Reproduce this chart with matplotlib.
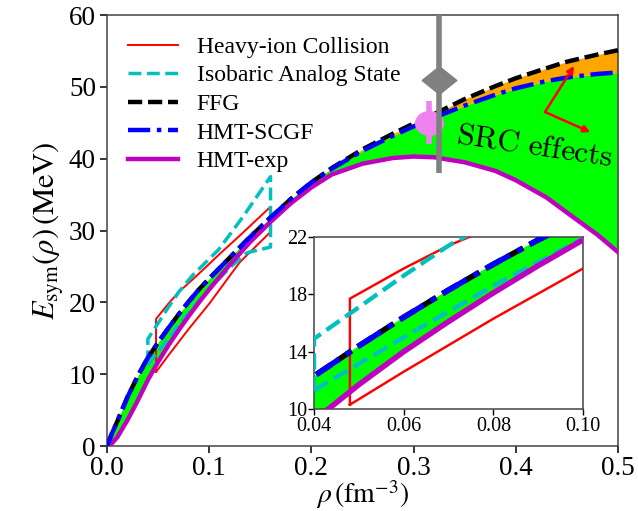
import matplotlib
matplotlib.use('Agg')
import matplotlib.pyplot as plt
from matplotlib.path import Path
from matplotlib.transforms import Affine2D
from matplotlib.ticker import FormatStrFormatter

plt.rcParams['font.family'] = ['Liberation Serif', 'DejaVu Serif']
plt.rcParams['mathtext.fontset'] = 'stix'

# ---------------- data ----------------
rho = [0.0, 0.005, 0.01, 0.02, 0.03, 0.04, 0.05, 0.06, 0.07, 0.08, 0.09, 0.10,
       0.12, 0.14, 0.16, 0.18, 0.20, 0.22, 0.25, 0.28, 0.30, 0.32, 0.35, 0.38,
       0.40, 0.43, 0.45, 0.48, 0.50]
E_ffg = [0.0, 1.8, 3.4, 6.8, 9.7, 12.3, 14.4, 16.4, 18.3, 20.1, 21.8, 23.3,
         26.2, 29.1, 31.8, 34.4, 36.7, 38.7, 41.3, 43.5, 44.9, 46.2, 48.3, 50.1,
         51.2, 52.6, 53.5, 54.5, 55.1]
E_scgf = [0.0, 1.8, 3.4, 6.8, 9.7, 12.3, 14.4, 16.4, 18.3, 20.1, 21.8, 23.3,
          26.2, 29.1, 31.8, 34.4, 36.7, 38.6, 41.1, 43.2, 44.5, 45.7, 47.4, 48.9,
          49.8, 50.8, 51.3, 51.8, 52.0]
E_exp = [0.0, 0.4, 1.2, 3.6, 6.3, 9.2, 11.7, 14.0, 16.1, 18.1, 20.0, 21.8,
         25.2, 28.4, 31.2, 33.8, 36.0, 37.8, 39.3, 40.1, 40.3, 40.2, 39.5, 38.3,
         37.0, 34.6, 32.5, 29.4, 27.0]

hic_lo_rho = [0.048, 0.06, 0.08, 0.10, 0.13, 0.16]
hic_lo_E = [10.3, 12.6, 16.3, 19.8, 25.6, 29.8]
hic_up_rho = [0.048, 0.06, 0.07, 0.08, 0.09, 0.11, 0.13, 0.16]
hic_up_E = [17.7, 19.8, 21.4, 22.7, 24.0, 26.7, 29.3, 33.3]

ias_lo_rho = [0.04, 0.06, 0.08, 0.10, 0.12, 0.137, 0.16]
ias_lo_E = [11.3, 15.0, 18.6, 21.9, 24.8, 26.9, 27.7]
ias_up_rho = [0.04, 0.05, 0.06, 0.07, 0.084, 0.109, 0.133, 0.16]
ias_up_E = [14.9, 17.1, 19.3, 21.4, 23.8, 27.3, 31.9, 37.5]

gray_rho = [0.325]
gray_E = [51.0]
gray_err = [13.0]
pink_rho = [0.315]
pink_E = [45.0]
pink_err = [3.0]

arrow_from = (0.4286, 46.5)
arrow_to = [(0.457, 52.9), (0.473, 43.7)]

labels = ['Heavy-ion Collision', 'Isobaric Analog State', 'FFG', 'HMT-SCGF', 'HMT-exp']

# closed polygons
hic_x = hic_lo_rho + hic_up_rho[::-1] + [hic_lo_rho[0]]
hic_y = hic_lo_E + hic_up_E[::-1] + [hic_lo_E[0]]
ias_x = ias_lo_rho + ias_up_rho[::-1] + [ias_lo_rho[0]]
ias_y = ias_lo_E + ias_up_E[::-1] + [ias_lo_E[0]]


def draw(ax, scale=1.0):
    ax.fill_between(rho, E_scgf, E_exp, color='#00ff00', lw=0, zorder=1)
    ax.fill_between(rho, E_ffg, E_scgf, color='#ffa500', lw=0, zorder=1)
    h1, = ax.plot(hic_x, hic_y, color='red', lw=1.4 * scale, label=labels[0], zorder=3)
    h2, = ax.plot(ias_x, ias_y, color='#00bfbf', ls='--', lw=2.5 * scale, label=labels[1], zorder=3)
    h3, = ax.plot(rho, E_ffg, color='black', ls=(0, (3.2, 1.3)), lw=3.2 * scale, label=labels[2], zorder=4)
    h5, = ax.plot(rho, E_exp, color='#bf00bf', lw=3.2 * scale, label=labels[4], zorder=4)
    h4, = ax.plot(rho, E_scgf, color='blue', ls=(0, (5, 1.5, 1, 1.5)), lw=3.2 * scale, label=labels[3], zorder=5)
    return [h1, h2, h3, h4, h5]


fig = plt.figure(figsize=(6.38, 5.11), dpi=100)
ax = fig.add_axes([0.1677, 0.1272, 0.8009, 0.8434])
handles = draw(ax)

# experimental points
diamond = Path([(-1, 0), (0, 0.8), (1, 0), (0, -0.8), (-1, 0)],
               [Path.MOVETO, Path.LINETO, Path.LINETO, Path.LINETO, Path.CLOSEPOLY])
ellipse = Path.unit_circle().transformed(Affine2D().scale(1.0, 0.85))
ax.errorbar(pink_rho, pink_E, yerr=pink_err, fmt='none', ecolor='violet', elinewidth=4, zorder=6)
ax.plot(pink_rho, pink_E, ls='none', marker=ellipse, ms=20, color='violet', zorder=6)
ax.errorbar(gray_rho, gray_E, yerr=gray_err, fmt='none', ecolor='gray', elinewidth=4, zorder=7)
ax.plot(gray_rho, gray_E, ls='none', marker=diamond, ms=25, color='gray', zorder=7)

for tgt in arrow_to:
    ax.annotate('', xy=tgt, xytext=arrow_from,
                arrowprops=dict(arrowstyle='-|>', color='red', lw=1.8, mutation_scale=10,
                                shrinkA=0, shrinkB=0), zorder=8)

ax.text(0.3405, 42.3, r'$\mathrm{SRC\ effects}$', fontsize=22.5, rotation=-8.5,
        rotation_mode='anchor', ha='left', va='baseline', math_fontfamily='cm', zorder=8)

ax.set_xlim(0, 0.5)
ax.set_ylim(0, 60)
ax.set_xticks([0.0, 0.1, 0.2, 0.3, 0.4, 0.5])
ax.set_yticks([0, 10, 20, 30, 40, 50, 60])
ax.xaxis.set_major_formatter(FormatStrFormatter('%.1f'))
ax.tick_params(labelsize=19.5, width=1.1, length=5, colors='black', pad=2)
ax.tick_params(axis='y', pad=3)
for s in ax.spines.values():
    s.set_color('#444444')
    s.set_linewidth(1.1)
ax.set_xlabel(r'$\rho\,(\mathrm{fm}^{-3})$', fontsize=20, labelpad=-2)
ax.set_ylabel(r'$E_{\mathrm{sym}}(\rho)\,(\mathrm{MeV})$', fontsize=22, labelpad=2)

ax.legend(handles=handles, loc='upper left', frameon=False, fontsize=17,
          handlelength=2.1, labelspacing=0.3, handletextpad=0.8, borderaxespad=0.5)

# inset
axi = fig.add_axes([0.4922, 0.1996, 0.4216, 0.3366])
draw(axi, scale=1.25)
axi.set_xlim(0.04, 0.10)
axi.set_ylim(10, 22)
axi.set_xticks([0.04, 0.06, 0.08, 0.10])
axi.set_yticks([10, 14, 18, 22])
axi.xaxis.set_major_formatter(FormatStrFormatter('%.2f'))
axi.tick_params(labelsize=14.5, width=1.0, length=4)
axi.tick_params(axis='x', pad=2)
axi.tick_params(axis='y', pad=1)
for s in axi.spines.values():
    s.set_color('#444444')
    s.set_linewidth(1.1)

fig.savefig('out.png', dpi=100)
